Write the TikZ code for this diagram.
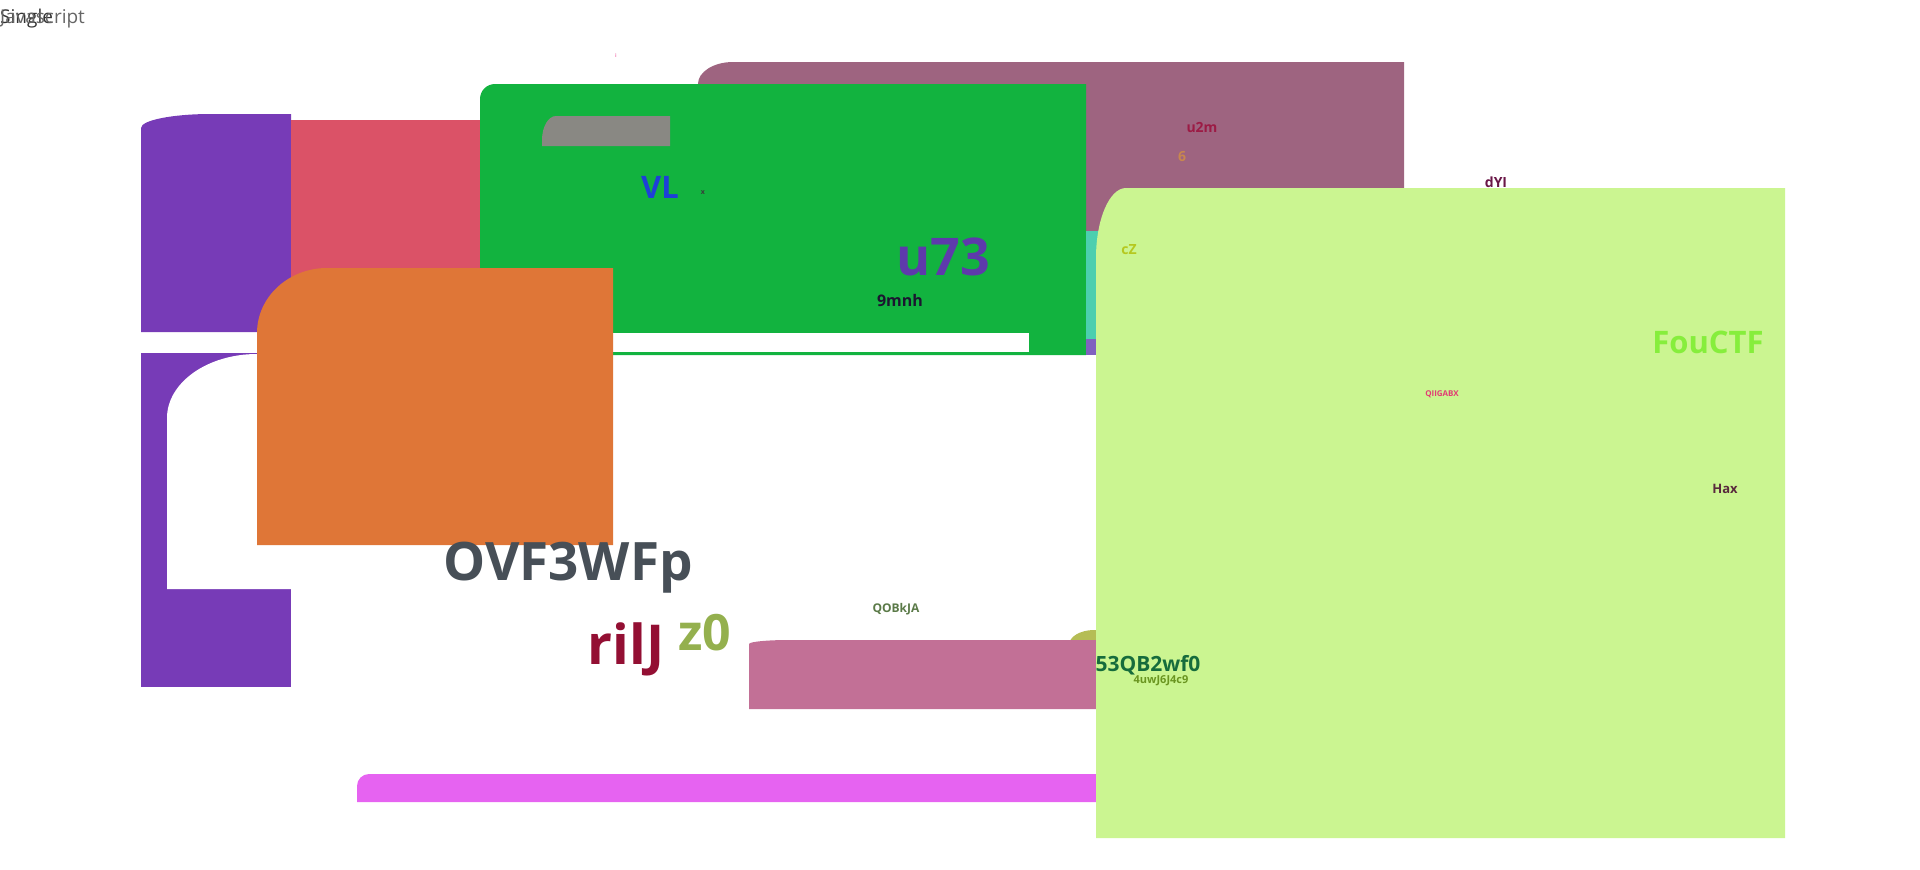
\documentclass[tikz,border=0pt]{standalone}
\usepackage{fontspec}
\setmainfont{Open Sans}

\definecolor{cpurple}{HTML}{773BB7}
\definecolor{cred}{HTML}{DB5267}
\definecolor{cgreen}{HTML}{12B33F}
\definecolor{cgray}{HTML}{898883}
\definecolor{cmauve}{HTML}{9E6480}
\definecolor{cteal}{HTML}{4CCFAF}
\definecolor{cviolet}{HTML}{7F62BF}
\definecolor{clime}{HTML}{CBF591}
\definecolor{corange}{HTML}{DF7637}
\definecolor{cpink}{HTML}{C27096}
\definecolor{colive}{HTML}{B5BD55}
\definecolor{cmagenta}{HTML}{E663F1}
% text colours
\definecolor{ttick}{HTML}{F07AB0}
\definecolor{tvl}{HTML}{1E3FD8}
\definecolor{tx}{HTML}{3A3A3A}
\definecolor{tu}{HTML}{5E3AAB}
\definecolor{tmnh}{HTML}{1B1530}
\definecolor{tcz}{HTML}{B5C81F}
\definecolor{tutwo}{HTML}{9C1B45}
\definecolor{tsix}{HTML}{C8874E}
\definecolor{tdyi}{HTML}{6A1747}
\definecolor{tfou}{HTML}{86EE3C}
\definecolor{tqii}{HTML}{E23C74}
\definecolor{thax}{HTML}{5A2A3D}
\definecolor{tovf}{HTML}{474F57}
\definecolor{tril}{HTML}{930F33}
\definecolor{tzo}{HTML}{94B04E}
\definecolor{tqob}{HTML}{5B7A48}
\definecolor{tqb}{HTML}{166C3C}
\definecolor{tuwj}{HTML}{6A9520}

% box with a rounded top-left corner: colour, x1, y1, x2, y2, rx, ry
\newcommand{\tlbox}[7]{%
  \fill[#1] (#2,#5) -- (#2,#3+#7) .. controls (#2,#3+0.448*#7) and (#2+0.448*#6,#3) .. (#2+#6,#3) -- (#4,#3) -- (#4,#5) -- cycle;}
\newcommand{\fs}[1]{\fontsize{#1}{#1}\selectfont\bfseries}

\begin{document}
\begin{tikzpicture}[
    x=1pt, y=-1pt,
    lbl/.style={inner sep=0pt, anchor=center},
    title/.style={inner sep=0pt, anchor=west, font=\fontsize{19}{19}\selectfont}
]
\useasboundingbox (0,0) rectangle (1920,870);

% Boxes, back to front
\tlbox{cmauve}{698}{62}{1404}{300}{35}{22}
\tlbox{cpurple}{141}{114}{291}{332}{70}{14}
\fill[cred] (291,120) rectangle (490,332);
\tlbox{cgreen}{480}{84}{1086}{355}{15}{15}
\fill[white] (480,333) rectangle (1029,352);
\tlbox{cgray}{542}{116}{670}{146}{14}{24}
\fill[cteal] (1086,231) rectangle (1200,339);
\fill[cviolet] (1086,339) rectangle (1200,355);
\fill[cpurple] (141,353) rectangle (291,687);
\tlbox{white}{167}{354}{320}{589}{90}{64}
\tlbox{corange}{257}{268}{613}{545}{70}{65}
\tlbox{colive}{1069}{630}{1110}{660}{25}{15}
\tlbox{cpink}{749}{640}{1110}{709}{40}{4}
\tlbox{cmagenta}{357}{774}{1110}{802}{12}{12}
\tlbox{clime}{1096}{188}{1785}{838}{30}{70}

% Labels
\node[title, text=black!80] (single) at (0,19) {Single};
\node[title, text=black!60] (javascript) at (0,19) {Javascript};
\node[lbl, text=ttick, font=\fs{5}] (tick) at (616,56) {i};
\node[lbl, text=tvl, font=\fs{31}] (vl) at (660,187) {VL};
\node[lbl, text=tx, font=\fs{7}] (xx) at (703,193) {x};
\node[lbl, text=tu, font=\fs{52}] (u73) at (943,257) {u73};
\node[lbl, text=tmnh, font=\fs{16}] (mnh) at (900,300) {9mnh};
\node[lbl, text=tcz, font=\fs{14}] (cz) at (1129,250) {cZ};
\node[lbl, text=tutwo, font=\fs{14}] (u2m) at (1202,127) {u2m};
\node[lbl, text=tsix, font=\fs{14}] (six) at (1182,157) {6};
\node[lbl, text=tdyi, font=\fs{14}] (dyi) at (1496,182) {dYI};
\node[lbl, text=tfou, font=\fs{31}] (fouctf) at (1708,342) {FouCTF};
\node[lbl, text=tqii, font=\fs{8}] (qiigabx) at (1442,394) {QIIGABX};
\node[lbl, text=thax, font=\fs{13}] (hax) at (1725,489) {Hax};
\node[lbl, text=tovf, font=\fs{53}] (ovf) at (568,568) {OVF3WFp};
\node[lbl, text=tril, font=\fs{55}] (rilj) at (626,649) {rilJ};
\node[lbl, text=tzo, font=\fs{50}] (zo) at (705,633) {z0};
\node[lbl, text=tqob, font=\fs{12}] (qobkja) at (896,609) {QOBkJA};
\node[lbl, text=tqb, font=\fs{21}] (qbwf) at (1148,665) {53QB2wf0};
\node[lbl, text=tuwj, font=\fs{11}] (uwj) at (1161,681) {4uwJ6J4c9};

\end{tikzpicture}
\end{document}
